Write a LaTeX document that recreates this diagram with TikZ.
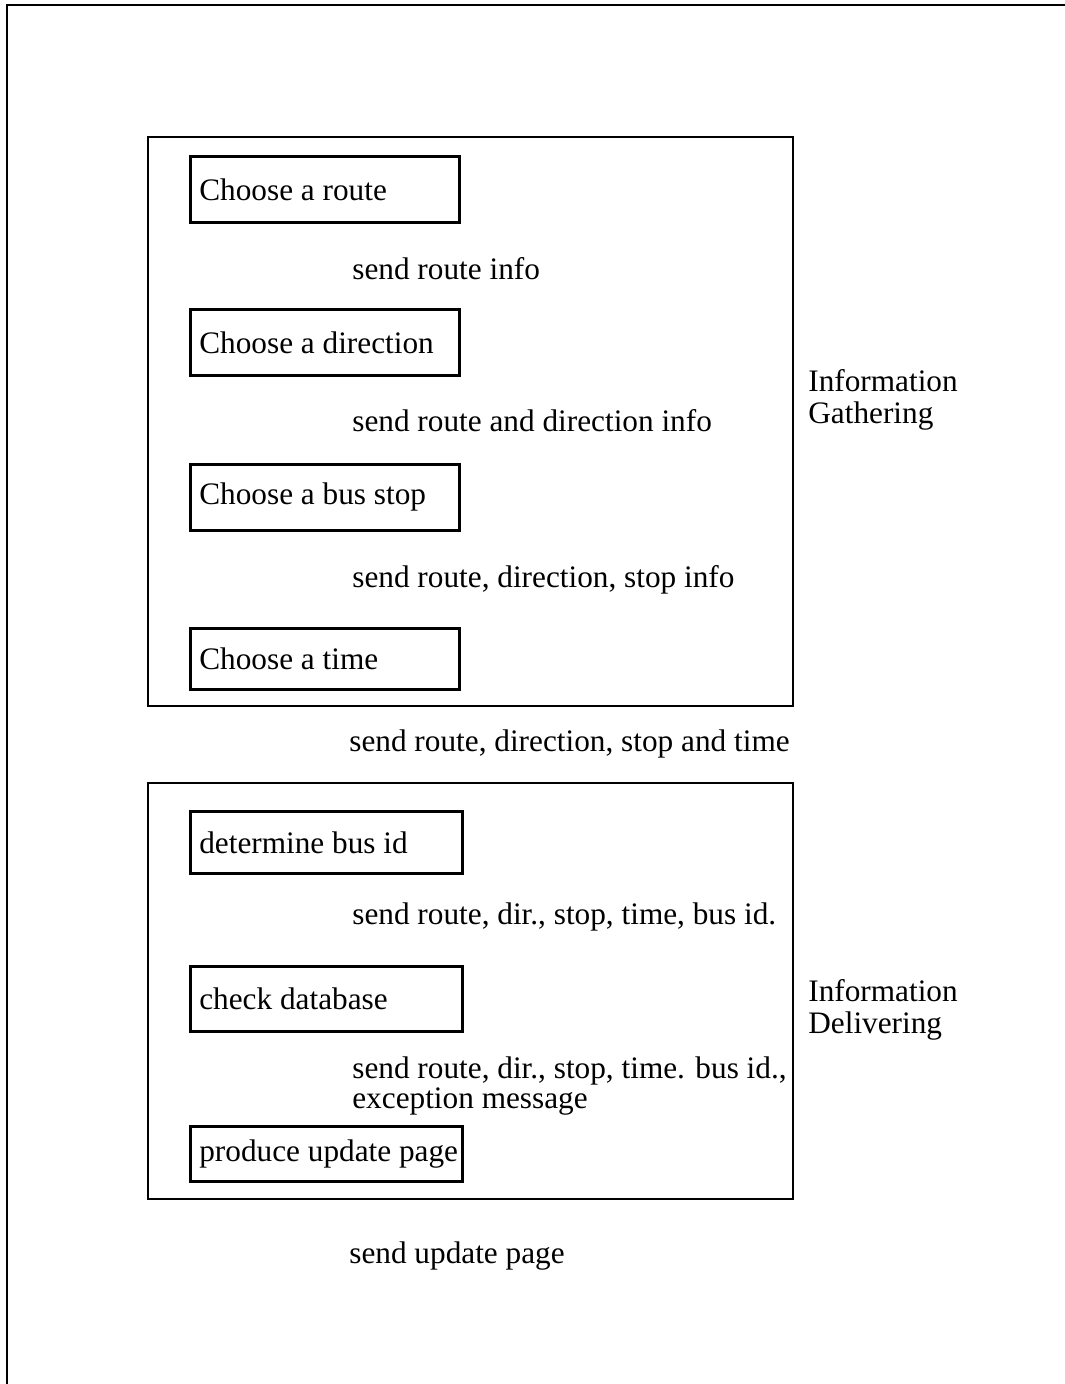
\documentclass[tikz,border=0pt]{standalone}
\usepackage{fontspec}
\setmainfont{Liberation Serif}
\usetikzlibrary{positioning}
\begin{document}
\begin{tikzpicture}[x=0.02cm,y=-0.02cm,
    font=\fontsize{17.8}{17.5}\selectfont,
    task/.style={draw,line width=1.5pt,anchor=north west,text width=5.02cm,
      align=flush left,inner xsep=0.18cm,inner ysep=0pt,minimum height=#1},
    task/.default=1.32cm,
    group/.style={draw,line width=1.1pt,anchor=north west,minimum width=12.9cm,
      minimum height=#1},
    msg/.style={anchor=west,inner sep=0pt,align=left},
    side/.style={msg,font=\fontsize{17.8}{18.4}\selectfont}]
  \useasboundingbox (0,0) rectangle (1065,1384);
  \draw[line width=1.4pt] (7,1384) |- (1065,5);
  % information gathering
  \node[group=11.38cm] (gather) at (147,136) {};
  \node[task] (route) at (189,155) {Choose a route};
  \node[task] (dir) at (189,308) {Choose a direction};
  \node[task] (stop) at (189,463) {Choose a bus stop};
  \node[task=1.22cm] (time) at (189,627) {Choose a time};
  \node[msg] (m1) at (352,269) {send route info};
  \node[msg] (m2) at (352,421) {send route and direction info};
  \node[msg] (m3) at (352,580) {send route, direction, stop info};
  \node[side] (gatherlbl) at (808,400) {Information\\Gathering};
  \node[msg] (m4) at (349,744) {send route, direction, stop and time};
  % information delivering
  \node[group=8.32cm] (deliver) at (147,782) {};
  \begin{scope}[task/.append style={text width=5.08cm}]
    \node[task=1.24cm] (busid) at (189,810) {determine bus id};
    \node[task=1.3cm] (db) at (189,965) {check database};
    \node[task=1.1cm] (page) at (189,1125) {\mbox{produce update page}};
  \end{scope}
  \node[msg] (m5) at (352,917) {send route, dir., stop, time, bus id.};
  \node[msg] (m6) at (352,1086) {send route, dir., stop, time. bus id.,\\exception message};
  \node[side] (deliverlbl) at (808,1010) {Information\\Delivering};
  \node[msg] (m7) at (349,1256) {send update page};
\end{tikzpicture}
\end{document}
